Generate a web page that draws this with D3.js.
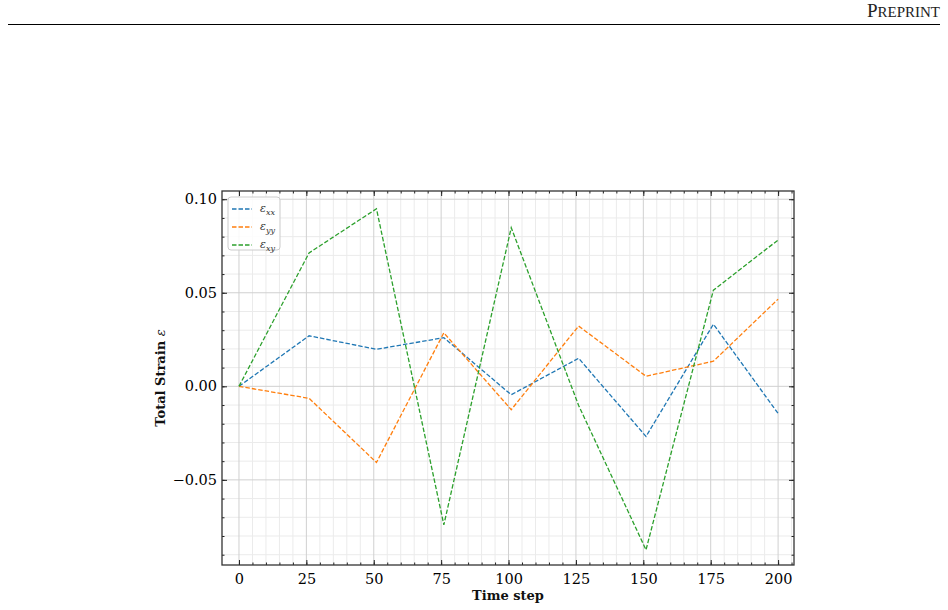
<!DOCTYPE html>
<html>
<head>
<meta charset="utf-8">
<script src="https://cdn.jsdelivr.net/npm/d3@7"></script>
<style>
  body { margin: 0; background: #fff; }
  svg { display: block; }
</style>
</head>
<body>
<script>
var width = 948;
var height = 610;

// data
var steps = [0, 26, 51, 76, 101, 126, 151, 176, 200];
var strainXX = [0, 0.027, 0.0198, 0.026, -0.0045, 0.015, -0.0268, 0.0332, -0.0145];
var strainYY = [0, -0.0064, -0.0407, 0.0286, -0.0125, 0.0322, 0.0054, 0.0134, 0.0466];
var strainXY = [0, 0.0713, 0.0949, -0.074, 0.0848, -0.0102, -0.0874, 0.0514, 0.0782];
var seriesNames = ['xx', 'yy', 'xy'];
var seriesColors = ['#1f77b4', '#ff7f0e', '#2ca02c'];
var xTicks = [0, 25, 50, 75, 100, 125, 150, 175, 200];
var yTicks = [0.10, 0.05, 0.00, -0.05];

var plotLeft = 222, plotRight = 794, plotTop = 191, plotBottom = 565;
var serif = "'DejaVu Serif', 'Liberation Serif', serif";

var svg = d3.select('body')
  .append('svg')
  .attr('width', width)
  .attr('height', height);

// page header
svg.append('text')
  .attr('x', 940)
  .attr('y', 17)
  .attr('text-anchor', 'end')
  .attr('font-family', "'Liberation Serif', serif")
  .attr('fill', '#222')
  .html('<tspan font-size="19">P</tspan><tspan font-size="15">REPRINT</tspan>');

svg.append('line')
  .attr('x1', 8).attr('x2', 940)
  .attr('y1', 24.5).attr('y2', 24.5)
  .attr('stroke', '#000')
  .attr('stroke-width', 1);

var xScale = d3.scaleLinear()
  .domain([-6.3, 205.9])
  .range([plotLeft, plotRight]);

var yScale = d3.scaleLinear()
  .domain([-0.0955, 0.1044])
  .range([plotBottom, plotTop]);

var xMinor = d3.range(0, 206, 5);
var yMinor = d3.range(-9, 11, 1).map(function(d) { return d / 100; });

// grid
var grid = svg.append('g');
grid.selectAll('line.xminor')
  .data(xMinor.filter(function(d) { return d % 25 !== 0; }))
  .enter().append('line')
  .attr('x1', function(d) { return xScale(d); })
  .attr('x2', function(d) { return xScale(d); })
  .attr('y1', plotTop).attr('y2', plotBottom)
  .attr('stroke', '#ebebeb').attr('stroke-width', 1);
grid.selectAll('line.yminor')
  .data(yMinor.filter(function(d) { return Math.round(d * 100) % 5 !== 0; }))
  .enter().append('line')
  .attr('y1', function(d) { return yScale(d); })
  .attr('y2', function(d) { return yScale(d); })
  .attr('x1', plotLeft).attr('x2', plotRight)
  .attr('stroke', '#ebebeb').attr('stroke-width', 1);
grid.selectAll('line.xmajor')
  .data(xTicks)
  .enter().append('line')
  .attr('x1', function(d) { return xScale(d); })
  .attr('x2', function(d) { return xScale(d); })
  .attr('y1', plotTop).attr('y2', plotBottom)
  .attr('stroke', '#d0d0d0').attr('stroke-width', 1);
grid.selectAll('line.ymajor')
  .data(yTicks)
  .enter().append('line')
  .attr('y1', function(d) { return yScale(d); })
  .attr('y2', function(d) { return yScale(d); })
  .attr('x1', plotLeft).attr('x2', plotRight)
  .attr('stroke', '#d0d0d0').attr('stroke-width', 1);

// lines
var allSeries = [strainXX, strainYY, strainXY];
var line = d3.line()
  .x(function(d, i) { return xScale(steps[i]); })
  .y(function(d) { return yScale(d); });

svg.selectAll('path.series')
  .data(allSeries)
  .enter()
  .append('path')
  .attr('class', 'series')
  .attr('d', line)
  .attr('fill', 'none')
  .attr('stroke', function(d, i) { return seriesColors[i]; })
  .attr('stroke-width', 1.3)
  .attr('stroke-dasharray', '4.5,2');

// axes with inward ticks
var xAxis = d3.axisBottom(xScale).tickValues(xTicks).tickSize(-5).tickPadding(9).tickFormat(d3.format('d'));
var xAxisMinor = d3.axisBottom(xScale).tickValues(xMinor).tickSize(-2.5).tickFormat('');
var yAxis = d3.axisLeft(yScale).tickValues(yTicks).tickSize(-5).tickPadding(5)
  .tickFormat(function(d) { return d < 0 ? '\u2212' + d3.format('.2f')(-d) : d3.format('.2f')(d); });
var yAxisMinor = d3.axisLeft(yScale).tickValues(yMinor).tickSize(-2.5).tickFormat('');

function styleAxis(g) {
  g.select('.domain').remove();
  g.selectAll('line').attr('stroke', '#222');
  g.selectAll('text')
    .attr('font-family', serif)
    .attr('font-size', '14.5px')
    .attr('fill', '#000');
}

svg.append('g').attr('transform', 'translate(0,' + plotBottom + ')').call(xAxisMinor).call(styleAxis);
svg.append('g').attr('transform', 'translate(0,' + plotBottom + ')').call(xAxis).call(styleAxis);
svg.append('g').attr('transform', 'translate(' + plotLeft + ',0)').call(yAxisMinor).call(styleAxis);
svg.append('g').attr('transform', 'translate(' + plotLeft + ',0)').call(yAxis).call(styleAxis);

// top and right ticks
svg.append('g').attr('transform', 'translate(0,' + plotTop + ')')
  .call(d3.axisTop(xScale).tickValues(xMinor).tickSize(-2.5).tickFormat('')).call(styleAxis);
svg.append('g').attr('transform', 'translate(0,' + plotTop + ')')
  .call(d3.axisTop(xScale).tickValues(xTicks).tickSize(-5).tickFormat('')).call(styleAxis);
svg.append('g').attr('transform', 'translate(' + plotRight + ',0)')
  .call(d3.axisRight(yScale).tickValues(yMinor).tickSize(-2.5).tickFormat('')).call(styleAxis);
svg.append('g').attr('transform', 'translate(' + plotRight + ',0)')
  .call(d3.axisRight(yScale).tickValues(yTicks).tickSize(-5).tickFormat('')).call(styleAxis);

// frame
svg.append('rect')
  .attr('x', plotLeft).attr('y', plotTop)
  .attr('width', plotRight - plotLeft).attr('height', plotBottom - plotTop)
  .attr('fill', 'none')
  .attr('stroke', '#333')
  .attr('stroke-width', 1.3);

// axis labels
svg.append('text')
  .attr('x', (plotLeft + plotRight) / 2)
  .attr('y', 600)
  .attr('text-anchor', 'middle')
  .attr('font-family', serif)
  .attr('font-weight', 'bold')
  .attr('font-size', '13px')
  .attr('fill', '#111')
  .text('Time step');

svg.append('text')
  .attr('transform', 'translate(165,' + ((plotTop + plotBottom) / 2) + ') rotate(-90)')
  .attr('text-anchor', 'middle')
  .attr('font-family', serif)
  .attr('font-weight', 'bold')
  .attr('font-size', '13px')
  .attr('fill', '#111')
  .html('Total Strain <tspan font-style="italic" font-weight="normal">\u03b5</tspan>');

// legend
var legend = svg.append('g').attr('transform', 'translate(228,197)');
legend.append('rect')
  .attr('width', 52).attr('height', 53)
  .attr('rx', 3)
  .attr('fill', 'rgba(255,255,255,0.85)')
  .attr('stroke', '#ccc')
  .attr('stroke-width', 1);

var items = legend.selectAll('g.item')
  .data(seriesNames)
  .enter()
  .append('g')
  .attr('class', 'item')
  .attr('transform', function(d, i) { return 'translate(0,' + (12 + i * 18) + ')'; });

items.append('line')
  .attr('x1', 4).attr('x2', 24)
  .attr('stroke', function(d, i) { return seriesColors[i]; })
  .attr('stroke-width', 1.3)
  .attr('stroke-dasharray', '4.5,2');

items.append('text')
  .attr('x', 32)
  .attr('y', 3)
  .attr('font-family', serif)
  .attr('font-style', 'italic')
  .attr('font-size', '11px')
  .attr('fill', '#333')
  .html(function(d) { return '\u03b5<tspan font-size="8" dy="2.5">' + d + '</tspan>'; });
</script>
</body>
</html>
